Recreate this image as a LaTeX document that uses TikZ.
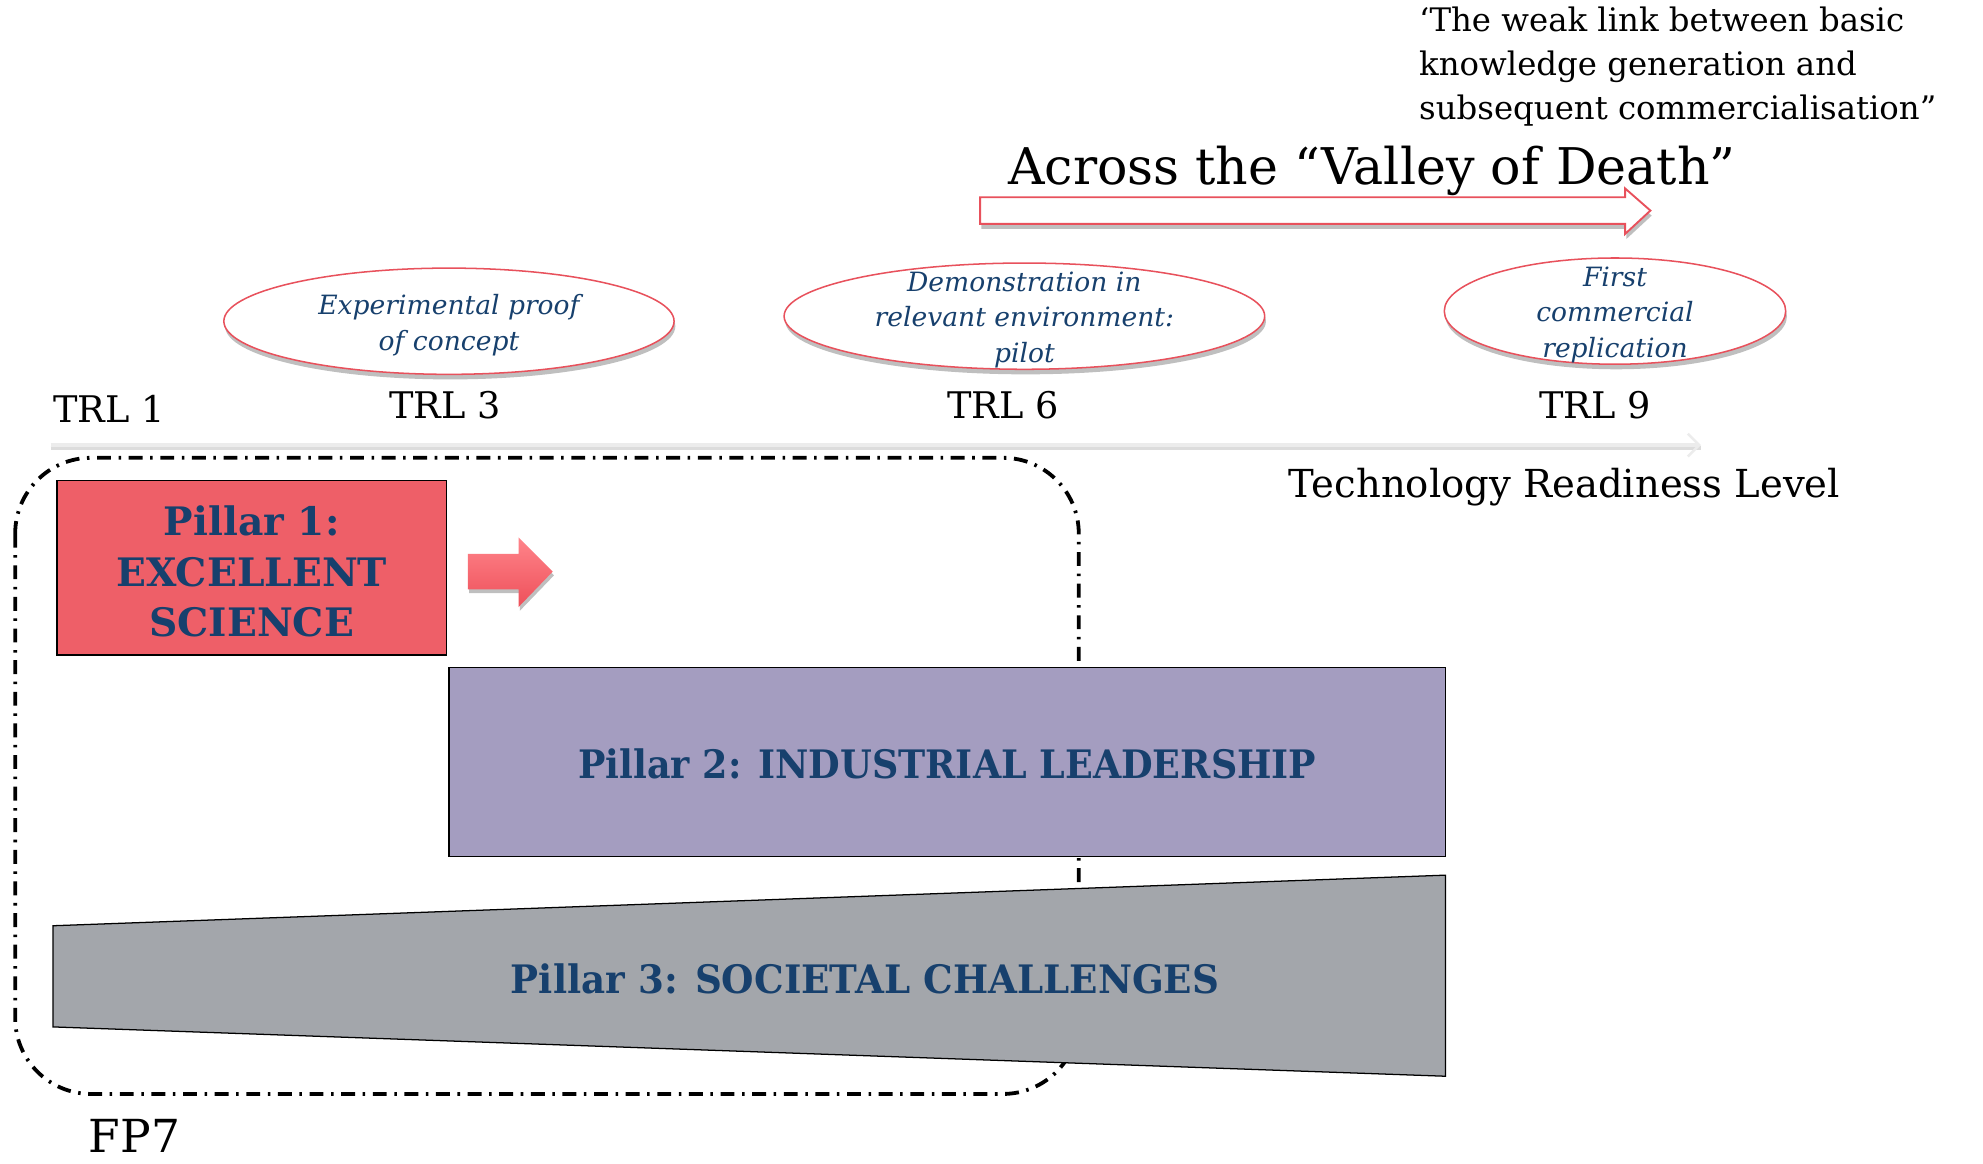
\documentclass[tikz,border=0pt]{standalone}
\usepackage{fontspec}
\setmainfont{DejaVu Serif}
\newfontfamily\pilfontA{DejaVu Serif}
\newfontfamily\pilfontB[FakeStretch=0.93]{DejaVu Serif}
\newfontfamily\pilfontC[FakeStretch=0.95]{DejaVu Serif}
\usetikzlibrary{shapes.geometric,shadows,arrows.meta}
\definecolor{txtblue}{HTML}{17406D}
\definecolor{redline}{HTML}{E8515C}
\definecolor{p1fill}{HTML}{EE5F68}
\definecolor{p2fill}{HTML}{A49DC0}
\definecolor{p3fill}{HTML}{A3A6AB}
\definecolor{arrtop}{HTML}{FF848A}
\definecolor{arrbot}{HTML}{EE505A}
\tikzset{
  ell/.style={ellipse, draw=redline, line width=1.2pt, fill=white, inner sep=0pt,
    drop shadow={shadow xshift=1pt, shadow yshift=-4pt, opacity=0.25, fill=black}},
  elltext/.style={font=\fontsize{21}{28}\selectfont\itshape, text=txtblue, align=center, inner sep=0pt},
  trl/.style={font=\fontsize{29}{34}\selectfont, inner sep=0pt, anchor=base},
  pillar/.style={draw=black, line width=1pt},
  piltext/.style={font=\fontsize{31}{40}\selectfont\bfseries, text=txtblue, align=center, inner sep=0pt},
}
\begin{document}
\begin{tikzpicture}[x=1pt,y=-1pt]
\useasboundingbox (0,0) rectangle (1568,920);
\fill[white] (0,0) rectangle (1568,920);

% FP7 dash-dot rounded box
\draw[line width=3pt, dash pattern=on 11pt off 6pt on 2pt off 6pt, rounded corners=60pt]
  (12,362) rectangle (853,865);

% Pillar 1
\node[pillar, fill=p1fill, minimum width=308pt, minimum height=138pt, inner sep=0pt] (p1) at (199,449) {};
\node[piltext, font=\fontsize{31}{40}\selectfont\pilfontA\bfseries] (p1t) at (199,452) {Pillar 1:\\EXCELLENT\\SCIENCE};

% small red block arrow
\path[top color=arrtop, bottom color=arrbot, drop shadow={shadow xshift=1pt, shadow yshift=-3pt, opacity=0.25, fill=black}]
  (370,438) -- (410,438) -- (410,425) -- (437,452) -- (410,480) -- (410,466) -- (370,466) -- cycle;

% Pillar 2
\node[pillar, fill=p2fill, minimum width=788pt, minimum height=149pt, inner sep=0pt] (p2) at (749,602.5) {};
\node[piltext, font=\fontsize{31}{40}\selectfont\pilfontB\bfseries] (p2t) at (749,604) {Pillar 2: INDUSTRIAL LEADERSHIP};

% Pillar 3 (wedge)
\draw[pillar, fill=p3fill] (42,732) -- (1143,692) -- (1143,851) -- (42,812) -- cycle;
\node[piltext, font=\fontsize{31}{40}\selectfont\pilfontC\bfseries] (p3t) at (684,774) {Pillar 3: SOCIETAL CHALLENGES};

% axis
\coordinate (ax0) at (40,352);
\coordinate (ax1) at (1345,352);
\draw[gray!45, line width=3pt, opacity=0.6] ([yshift=-2.5pt]ax0) -- ([yshift=-2.5pt]ax1);
\draw[gray!15, line width=3pt, -{Straight Barb[length=9pt, width=18pt, line width=2pt]}] (ax0) -- (ax1);
\node[font=\fontsize{30.5}{36}\selectfont, anchor=base west, inner sep=0pt] (trlabel) at (1019,393) {Technology Readiness Level};

% TRL labels
\node[trl, anchor=base west] (t1) at (42,334) {TRL 1};
\node[trl] (t3) at (352,331) {TRL 3};
\node[trl] (t6) at (793,331) {TRL 6};
\node[trl] (t9) at (1261,331) {TRL 9};

% ellipses
\node[ell, minimum width=356pt, minimum height=84pt] (e1) at (355,254) {};
\node[elltext] (e1t) at (355,257) {Experimental proof\\of concept};
\node[ell, minimum width=380pt, minimum height=84pt] (e2) at (810,250) {};
\node[elltext] (e2t) at (810,253) {Demonstration in\\relevant environment:\\pilot};
\node[ell, minimum width=270pt, minimum height=84pt] (e3) at (1277,246) {};
\node[elltext] (e3t) at (1277,249) {First\\commercial\\replication};

% Valley of death arrow
\path[draw=redline, line width=1.5pt, fill=white, drop shadow={shadow xshift=1pt, shadow yshift=-4pt, opacity=0.25, fill=black}]
  (775,156) -- (1285,156) -- (1285,149) -- (1305,166.5) -- (1285,185) -- (1285,177) -- (775,177) -- cycle;
\node[font=\fontsize{40}{46}\selectfont, anchor=base west, inner sep=0pt] (vod) at (797,146) {Across the “Valley of Death”};

% quote
\node[font=\fontsize{25.6}{35}\selectfont, anchor=north west, align=left, inner sep=0pt] (quote) at (1122,5)
  {‘The weak link between basic\\knowledge generation and\\subsequent commercialisation”};

% FP7
\node[font=\fontsize{36}{40}\selectfont, anchor=base west, inner sep=0pt] (fp7) at (70,911) {FP7};
\end{tikzpicture}
\end{document}
